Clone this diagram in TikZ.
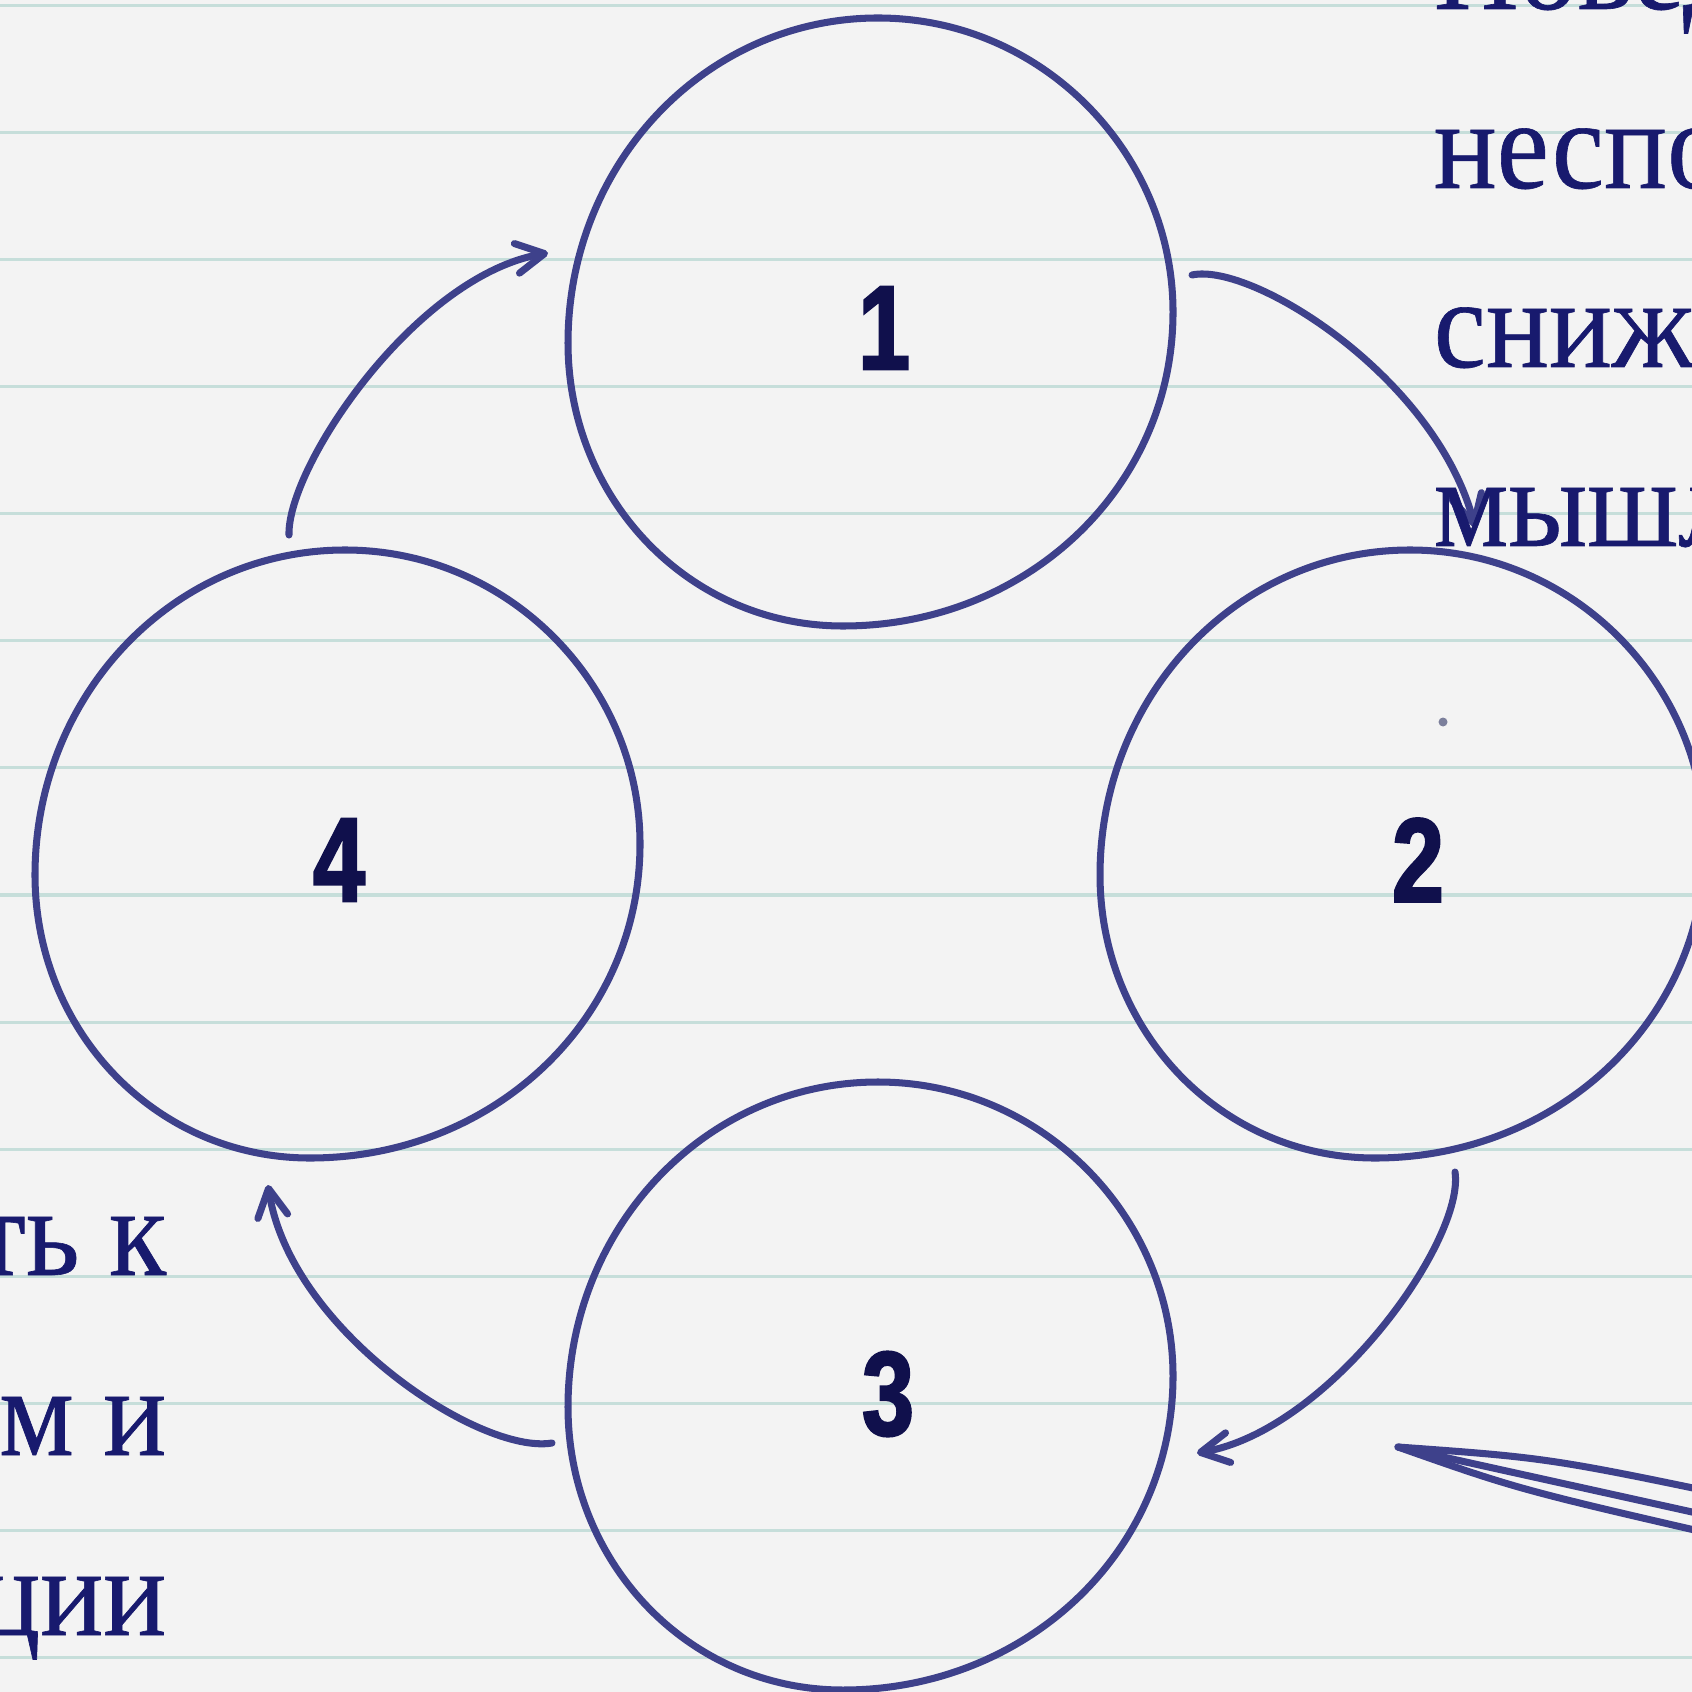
\documentclass[tikz,border=0pt]{standalone}
\usepackage{fontspec}
\usepackage{xcolor}
\usetikzlibrary{arrows.meta}
\setmainfont{Liberation Serif}
\newfontfamily\numfont{Liberation Sans}[FakeStretch=0.78, FakeBold=2]
\newfontfamily\sidefont{Liberation Serif}[FakeBold=0.5, FakeStretch=0.93]

\definecolor{paper}{HTML}{F3F3F3}
\definecolor{rulegreen}{HTML}{C6DEDA}
\definecolor{ink}{HTML}{3E418B}
\definecolor{numink}{HTML}{10104C}
\definecolor{txtink}{HTML}{181A6E}
\definecolor{dotgray}{HTML}{7B7F9B}

\begin{document}
\begin{tikzpicture}[x=0.01cm, y=-0.01cm,
  ruled/.style={rulegreen, line width=0.9pt},
  loop/.style={ink, line width=2pt, line join=round, line cap=round},
  flow/.style={ink, line width=2pt, line cap=round, -{Straight Barb[length=2.8mm, width=3mm, round]}},
  num/.style={numink, inner sep=0pt, font=\numfont\bfseries\fontsize{34}{34}\selectfont},
  side/.style={txtink, inner sep=0pt, font=\sidefont\fontsize{36}{54}\selectfont},
  blob/.pic={\draw[loop] (-6,-310) .. controls (158,-310) and (289,-175) .. (289,-16)
    .. controls (289,160) and (142,298) .. (-41,298)
    .. controls (-196,298) and (-316,170) .. (-316,15)
    .. controls (-316,-165) and (-178,-310) .. cycle;}
]

\useasboundingbox (0,0) rectangle (1692,1692);
\clip (0,0) rectangle (1692,1692);
\fill[paper] (0,0) rectangle (1692,1692);

\foreach \i in {0,...,13}
  \draw[ruled] (0,{5.3+127.1*\i}) -- (1692,{5.3+127.1*\i});

\pic at (884,328) {blob};
\pic at (1416,860) {blob};
\pic at (884,1392) {blob};
\pic at (351,860) {blob};

\node[num] (n1) at (884,328) {1};
\node[num] (n2) at (1418,860) {2};
\node[num] (n3) at (888,1394) {3};
\node[num] (n4) at (339,860) {4};

\coordinate (a1s) at (1192,275);
\coordinate (a1e) at (1475,527);
\coordinate (a2s) at (1455,1172);
\coordinate (a2e) at (1197,1453);
\coordinate (a3s) at (552,1443);
\coordinate (a3e) at (268,1185);
\coordinate (a4s) at (289,535);
\coordinate (a4e) at (548,253);

\draw[flow] (a1s) .. controls +(60,-13) and +(-40,-150) .. (a1e);
\draw[flow] (a2s) .. controls +(10,68) and +(133,-23) .. (a2e);
\draw[flow] (a3s) .. controls +(-72,12) and +(22,145) .. (a3e);
\draw[flow] (a4s) .. controls +(-2,-68) and +(-133,23) .. (a4e);

\node[side, anchor=base west] (r1) at (1433,9) {Повед};
\node[side, anchor=base west] (r2) at (1433,188) {неспо};
\node[side, anchor=base west] (r3) at (1433,367) {сниж};
\node[side, anchor=base west] (r4) at (1433,546) {мышл};

\node[side, anchor=base east] (l1) at (167,1275) {ть к};
\node[side, anchor=base east] (l2) at (167,1455) {м и};
\node[side, anchor=base east] (l3) at (167,1635) {ции};

\fill[dotgray] (1443,722) circle (4.5);

\coordinate (fan) at (1398,1447);
\draw[loop] (fan) .. controls (1550,1458) .. (1760,1502);
\draw[loop] (fan) -- (1760,1527);
\draw[loop] (fan) .. controls (1520,1490) .. (1760,1545);

\end{tikzpicture}
\end{document}
